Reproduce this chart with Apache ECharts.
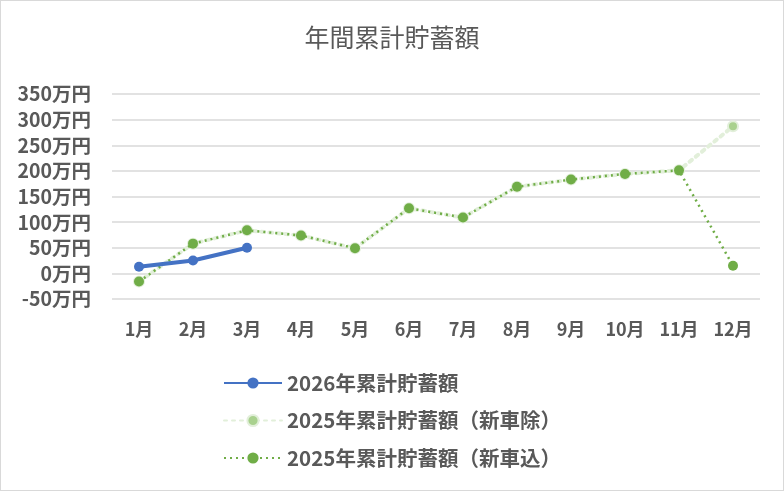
<!DOCTYPE html>
<html><head><meta charset="utf-8">
<script src="https://cdn.jsdelivr.net/npm/echarts@6/dist/echarts.min.js"></script>
<style>
html,body{margin:0;padding:0;background:#fff;}
#c{width:782px;height:489px;border:1px solid #d9d9d9;}
</style></head>
<body><div id="c"></div>
<script>
const categories = ['1月','2月','3月','4月','5月','6月','7月','8月','9月','10月','11月','12月'];
const s2026 = [13, 25, 50];
const s2025ex = [-16, 58, 84, 74, 49, 127, 109, 169, 183, 194, 201, 287];
const s2025in = [-16, 58, 84, 74, 49, 127, 109, 169, 183, 194, 201, 15];
const names = ['2026年累計貯蓄額','2025年累計貯蓄額（新車除）','2025年累計貯蓄額（新車込）'];
const FONT = '"Noto Sans CJK JP", "Noto Sans", sans-serif';
const chart = echarts.init(document.getElementById('c'));
chart.setOption({
  animation:false,
  title:{text:'年間累計貯蓄額', left:'center', top:19,
    textStyle:{fontFamily:FONT, fontSize:25, fontWeight:'normal', color:'#595959'}},
  grid:{left:111, right:23, top:93, bottom:191},
  legend:{orient:'vertical', left:217, top:365, itemWidth:58, itemHeight:14, itemGap:13.5,
    data:[names[0],names[1],names[2]],
    textStyle:{fontFamily:FONT, fontSize:20.5, fontWeight:'bold', color:'#595959', lineHeight:24}},
  xAxis:{type:'category', data:categories, boundaryGap:true,
    axisLine:{show:false}, axisTick:{show:false},
    axisLabel:{fontFamily:FONT, fontSize:18, fontWeight:'bold', color:'#595959', margin:21}},
  yAxis:{type:'value', min:-50, max:350, interval:50,
    axisLabel:{formatter:'{value}万円', fontFamily:FONT, fontSize:19.5, fontWeight:'bold', color:'#595959', margin:21},
    splitLine:{lineStyle:{color:'#d9d9d9', width:1.5}}},
  series:[
    {name:names[1], type:'line', data:s2025ex, z:1, symbol:'circle', symbolSize:10,
      lineStyle:{color:'#e2efda', width:4, type:[3,5], cap:'round'},
      itemStyle:{color:'#a9d18e', borderColor:'#e2efda', borderWidth:2}},
    {name:names[2], type:'line', data:s2025in, z:2, symbol:'circle', symbolSize:10,
      lineStyle:{color:'#70ad47', width:2.5, type:[2,4]},
      itemStyle:{color:'#70ad47'}},
    {name:names[0], type:'line', data:s2026, z:3, symbol:'circle', symbolSize:10,
      lineStyle:{color:'#4472c4', width:4},
      itemStyle:{color:'#4472c4'}}
  ]
});
</script></body></html>
